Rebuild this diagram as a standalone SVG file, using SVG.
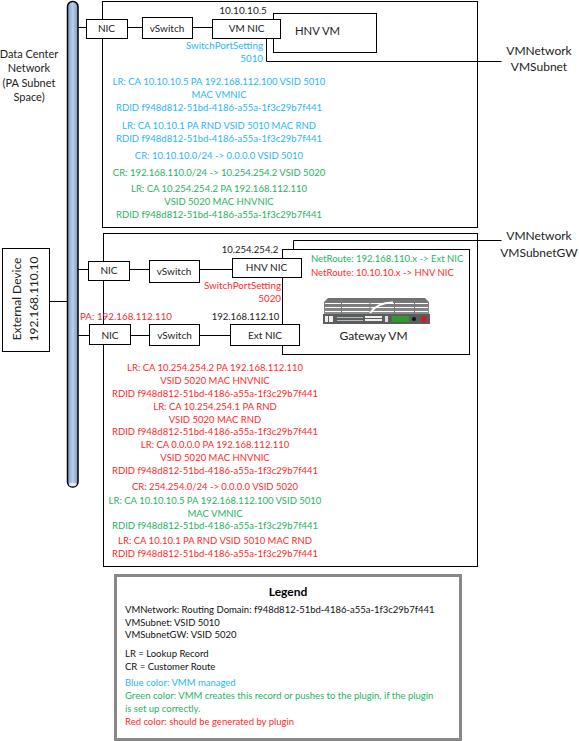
<svg xmlns="http://www.w3.org/2000/svg" width="579" height="741" viewBox="0 0 579 741">
<style>
text{font-family:Lato,"Open Sans","Liberation Sans",sans-serif;font-size:10px;text-anchor:middle;fill:#222}
.b,.g,.r,.s{font-size:9.500px}
.b{fill:#29b6f6}.g{fill:#1fb45f}.r{fill:#ff2a2a}
.l{text-anchor:start}
.e{text-anchor:end}
.w{font-size:9.800px}
.c{font-size:11px}
.big{font-size:12px}
.k{fill:#111}
.n{fill:#fff;stroke:#000;stroke-width:1}
.o{fill:none;stroke:#000;stroke-width:1}
</style>
<defs>
<linearGradient id="bus" x1="0" x2="1" y1="0" y2="0">
<stop offset="0" stop-color="#7b97c3"/><stop offset=".5" stop-color="#bcd0ea"/><stop offset="1" stop-color="#7b97c3"/>
</linearGradient>
<linearGradient id="top" x1="0" x2="0" y1="0" y2="1"><stop offset="0" stop-color="#6f6f6f"/><stop offset="1" stop-color="#8f8f8f"/></linearGradient>
</defs>
<rect width="579" height="741" fill="#fff"/>
<g id="box-top"><rect class="o" x="102.500" y="1.500" width="375" height="226"/></g>
<g id="box-bottom"><rect class="o" x="103.500" y="233.500" width="374" height="333"/></g>
<g id="connectors">
<path class="o" d="M78 27.500H86M127 27.500H143M192 27.500H213"/>
<path class="o" d="M266.500 38V61.500H501.500"/>
<path class="o" d="M78 269.500H88M129 269.500H150M199 269.500H233"/>
<path class="o" d="M78 335.500H90M130 335.500H150M199 335.500H231"/>
<path class="o" d="M293.500 258V240.500H501.500"/>
<path class="o" d="M49 301.500H67"/>
</g>
<g id="hnv-vm"><rect class="n" x="273.500" y="13.500" width="103" height="39"/><text style="font-size:11.300px" x="317.500" y="35">HNV VM</text></g>
<g id="gateway-vm"><rect class="n" x="282.500" y="249.500" width="187" height="105"/>
<text class="big" x="373.500" y="340">Gateway VM</text>
<path d="M328 298H425L429 302V315H324V302Z" fill="url(#top)"/>
<path d="M325 303.500H428M325 307.500H428M325 311.500H428" stroke="#fff" stroke-width="1"/>
<path d="M341.500 302V314M370 302V314M394.500 302V314M414.500 302V314" stroke="#777" stroke-width="1"/>
<path d="M370 313Q378 302 393 302.500" stroke="#fff" stroke-width="2" fill="none"/>
<rect x="323" y="314" width="107" height="10" fill="#5a5e5e"/>
<rect x="325" y="316" width="3" height="6" fill="#eee"/><rect x="329" y="316" width="4" height="6" fill="#eee"/>
<rect x="337" y="317" width="26" height="1" fill="#bbb"/><rect x="337" y="320" width="26" height="1" fill="#bbb"/>
<rect x="365" y="316" width="17" height="2" fill="#eee"/><rect x="365" y="319" width="17" height="2" fill="#eee"/>
<rect x="385" y="316" width="3" height="6" fill="#ddd"/>
<rect x="392" y="316" width="17" height="6" fill="#2f9b2f"/>
<circle cx="424" cy="319" r="3.200" fill="#c8202c"/><circle cx="414" cy="319" r="2" fill="#111"/>
</g>
<g id="bus-node"><rect x="67.500" y="1.500" width="10.500" height="485.500" rx="5" fill="url(#bus)" stroke="#000" stroke-width="1.500"/><ellipse cx="72.700" cy="484.500" rx="3.800" ry="1.800" fill="#e8eef6"/></g>
<g id="nic1"><rect class="n" x="86.500" y="19.500" width="41" height="19"/><text x="106.500" y="32">NIC</text></g>
<g id="vswitch1"><rect class="n" x="142.500" y="17.500" width="50" height="21"/><text x="167" y="32">vSwitch</text></g>
<g id="vm-nic"><rect class="n" x="212.500" y="19.500" width="68" height="19"/><text x="246.500" y="32">VM NIC</text></g>
<g id="nic2"><rect class="n" x="88.500" y="261.500" width="41" height="19"/><text x="109" y="274">NIC</text></g>
<g id="vswitch2"><rect class="n" x="149.500" y="260.500" width="50" height="22"/><text x="174" y="275">vSwitch</text></g>
<g id="hnv-nic"><rect class="n" x="232.500" y="258.500" width="69" height="19"/><text x="266.500" y="271">HNV NIC</text></g>
<g id="nic3"><rect class="n" x="89.500" y="324.500" width="41" height="20"/><text x="110" y="339">NIC</text></g>
<g id="vswitch3"><rect class="n" x="149.500" y="324.500" width="50" height="21"/><text x="174.500" y="339">vSwitch</text></g>
<g id="ext-nic"><rect class="n" x="230.500" y="324.500" width="69" height="21"/><text x="265" y="339">Ext NIC</text></g>
<g id="external-device"><rect class="n" x="2.500" y="248.500" width="47" height="103"/>
<text class="big" transform="translate(21 299) rotate(-90)">External Device</text>
<text class="big" transform="translate(38 299) rotate(-90)">192.168.110.10</text></g>
<g id="labels">
<text class="c" x="29" y="58">Data Center</text><text class="c" x="29" y="72">Network</text><text class="c" x="29" y="87">(PA Subnet</text><text class="c" x="29" y="101">Space)</text>
<text x="243" y="14">10.10.10.5</text>
<text class="b e w" x="263" y="49">SwitchPortSetting</text><text class="b e w" x="263" y="62">5010</text>
<text class="big" x="539" y="55">VMNetwork</text><text class="big" x="539" y="71">VMSubnet</text>
<text class="big" x="539" y="240">VMNetwork</text><text class="big" x="539" y="257">VMSubnetGW</text>
<text class="s" x="250" y="253">10.254.254.2</text>
<text class="r e w" x="281" y="289">SwitchPortSetting</text><text class="r e w" x="281" y="302">5020</text>
<text class="r w" x="126" y="320">PA: 192.168.112.110</text>
<text class="s" x="245.500" y="320">192.168.112.10</text>
<text class="g l" x="311" y="262">NetRoute: 192.168.110.x -&gt; Ext NIC</text>
<text class="r l" x="311" y="276">NetRoute: 10.10.10.x -&gt; HNV NIC</text>
</g>
<g id="records-top">
<text class="b" x="219" y="85">LR: CA 10.10.10.5 PA 192.168.112.100 VSID 5010</text>
<text class="b" x="219" y="98">MAC VMNIC</text>
<text class="b" x="219" y="111">RDID f948d812-51bd-4186-a55a-1f3c29b7f441</text>
<text class="b" x="219" y="129">LR: CA 10.10.1 PA RND VSID 5010 MAC RND</text>
<text class="b" x="219" y="142">RDID f948d812-51bd-4186-a55a-1f3c29b7f441</text>
<text class="b" x="219" y="159">CR: 10.10.10.0/24 -&gt; 0.0.0.0 VSID 5010</text>
<text class="g" x="219" y="176">CR: 192.168.110.0/24 -&gt; 10.254.254.2 VSID 5020</text>
<text class="g" x="219" y="192">LR: CA 10.254.254.2 PA 192.168.112.110</text>
<text class="g" x="219" y="205">VSID 5020 MAC HNVNIC</text>
<text class="g" x="219" y="218">RDID f948d812-51bd-4186-a55a-1f3c29b7f441</text>
</g>
<g id="records-bottom">
<text class="r" x="215" y="371">LR: CA 10.254.254.2 PA 192.168.112.110</text>
<text class="r" x="215" y="384">VSID 5020 MAC HNVNIC</text>
<text class="r" x="215" y="397">RDID f948d812-51bd-4186-a55a-1f3c29b7f441</text>
<text class="r" x="215" y="410">LR: CA 10.254.254.1 PA RND</text>
<text class="r" x="215" y="423">VSID 5020 MAC RND</text>
<text class="r" x="215" y="435">RDID f948d812-51bd-4186-a55a-1f3c29b7f441</text>
<text class="r" x="215" y="448">LR: CA 0.0.0.0 PA 192.168.112.110</text>
<text class="r" x="215" y="461">VSID 5020 MAC HNVNIC</text>
<text class="r" x="215" y="474">RDID f948d812-51bd-4186-a55a-1f3c29b7f441</text>
<text class="r" x="215" y="490">CR: 254.254.0/24 -&gt; 0.0.0.0 VSID 5020</text>
<text class="g" x="215" y="504">LR: CA 10.10.10.5 PA 192.168.112.100 VSID 5010</text>
<text class="g" x="215" y="517">MAC VMNIC</text>
<text class="g" x="215" y="529">RDID f948d812-51bd-4186-a55a-1f3c29b7f441</text>
<text class="r" x="215" y="544">LR: CA 10.10.1 PA RND VSID 5010 MAC RND</text>
<text class="r" x="215" y="557">RDID f948d812-51bd-4186-a55a-1f3c29b7f441</text>
</g>
<g id="legend"><rect x="115.500" y="575.500" width="345" height="164" fill="#fff" stroke="#888" stroke-width="3"/>
<text x="288" y="596" style="font-weight:700;font-size:12px;fill:#000">Legend</text>
<text class="l s k" x="125" y="613">VMNetwork: Routing Domain: f948d812-51bd-4186-a55a-1f3c29b7f441</text>
<text class="l s k" x="125" y="625.500">VMSubnet: VSID 5010</text>
<text class="l s k" x="125" y="638">VMSubnetGW: VSID 5020</text>
<text class="l s k" x="125" y="657">LR = Lookup Record</text>
<text class="l s k" x="125" y="670">CR = Customer Route</text>
<text class="l b" x="125" y="686">Blue color: VMM managed</text>
<text class="l g" x="125" y="699">Green color: VMM creates this record or pushes to the plugin, if the plugin</text>
<text class="l g" x="125" y="712">is set up correctly.</text>
<text class="l r" x="125" y="724.500">Red color: should be generated by plugin</text>
</g>
</svg>
